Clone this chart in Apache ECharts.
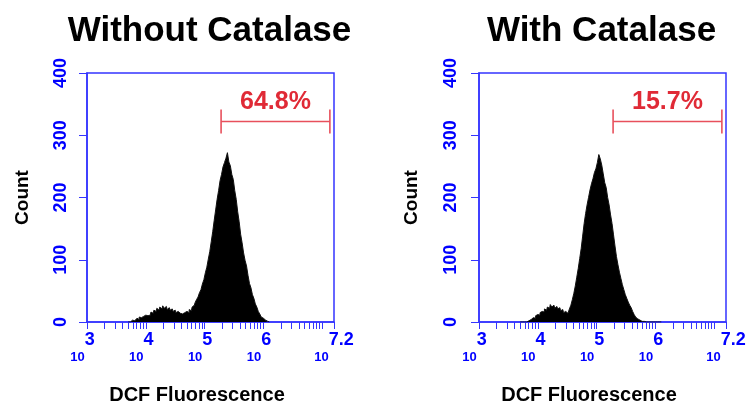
<!DOCTYPE html>
<html>
<head>
<meta charset="utf-8">
<script src="https://cdn.jsdelivr.net/npm/echarts@6/dist/echarts.min.js"></script>
<style>
  html, body { margin: 0; padding: 0; background: #ffffff; }
  #chart { width: 753px; height: 405px; }
</style>
</head>
<body>
<div id="chart"></div>
<script>
// ---- data ----
const panelTitles = ['Without Catalase', 'With Catalase'];
const xAxisTitle = 'DCF Fluorescence';
const yAxisTitle = 'Count';
const yTicks = [0, 100, 200, 300, 400];
const xLabelExponents = [3, 4, 5, 6, 7.2];
// histogram bins: log10 of fluorescence, 3.700 ... 6.100, step 0.025
const binLog10 = Array.from({ length: 97 }, (_, i) => +(3.7 + i * 0.025).toFixed(3));
const countsWithout = [
  0, 0, 2, 3, 2, 5, 6, 4, 8, 7, 9, 7, 11, 10, 13, 11, 16, 14, 19, 17,
  22, 19, 24, 21, 26, 22, 25, 20, 23, 19, 21, 17, 19, 15, 17, 14, 16, 13, 15, 14,
  17, 15, 20, 18, 24, 27, 31, 36, 40, 47, 52, 61, 68, 79, 88, 101, 113, 129, 145, 163,
  180, 197, 211, 227, 237, 249, 256, 263, 272, 257, 251, 237, 229, 211, 197, 177, 161, 141, 127, 111,
  99, 90, 75, 62, 55, 44, 38, 29, 24, 17, 13, 8, 6, 3, 2, 1, 0
];
const countsWith = [
  0, 0, 0, 0, 0, 1, 2, 4, 5, 7, 6, 10, 12, 11, 15, 17, 16, 21, 19, 24,
  22, 28, 24, 27, 22, 25, 21, 23, 18, 20, 15, 17, 14, 16, 21, 27, 36, 46, 58, 72,
  86, 102, 118, 138, 158, 174, 188, 200, 212, 222, 230, 240, 246, 256, 269, 262, 252, 238, 224, 216,
  200, 188, 172, 158, 140, 122, 105, 92, 80, 70, 60, 52, 44, 38, 32, 27, 23, 17, 12, 8,
  5, 3, 3, 1, 1, 0, 0, 0, 0, 0, 0, 0, 0, 0, 0, 0, 0
];
const gateLog10 = [5.28, 7.13];   // marker range (log10 fluorescence)
const gateLevel = 322;            // count level of marker bar
const gatePercents = ['64.8%', '15.7%'];
const countsPerPanel = [countsWithout, countsWith];

// log minor ticks 1..9 x 10^n within 10^3 .. 10^7.2
const xTickValues = [];
for (let n = 3; n <= 7; n++) {
  for (let k = 1; k <= 9; k++) {
    const v = n + Math.log10(k);
    if (v <= 7.2 + 1e-9) xTickValues.push(+v.toFixed(4));
  }
}
xTickValues.push(7.2);

// ---- styles ----
const FONT = "'Liberation Sans', Arial, Helvetica, sans-serif";
const BLUE_LINE = '#3535ff';
const BLUE_TEXT = '#0000ff';
const RED_TEXT = '#e02a36';
const RED_LINE = '#e8505c';

const grids = [
  { left: 87, top: 73, width: 247, height: 249 },
  { left: 479, top: 73, width: 247, height: 249 }
];

const chart = echarts.init(document.getElementById('chart'), null, { renderer: 'canvas' });

const option = {
  animation: false,
  backgroundColor: '#ffffff',
  textStyle: { fontFamily: FONT },
  grid: grids.map(g => Object.assign({
    show: true, borderColor: BLUE_LINE, borderWidth: 1.5, backgroundColor: 'transparent',
    containLabel: false, outerBoundsMode: 'none'
  }, g)),
  graphic: panelTitles.map((t, i) => ({
    type: 'text',
    x: grids[i].left + grids[i].width / 2 - 1,
    y: 14,
    style: {
      text: t,
      textAlign: 'center',
      textVerticalAlign: 'top',
      font: 'bold 35px ' + FONT,
      fill: '#000000'
    }
  })),
  xAxis: grids.map((g, i) => ({
    type: 'value',
    gridIndex: i,
    min: 3,
    max: 7.2,
    axisLine: { show: true, onZero: false, lineStyle: { color: BLUE_LINE, width: 1.5 } },
    axisTick: { show: true, length: 7, customValues: xTickValues, lineStyle: { color: BLUE_LINE, width: 1 } },
    splitLine: { show: false },
    axisLabel: {
      customValues: xLabelExponents,
      margin: 9,
      formatter: v => {
        const s = String(+(+v).toFixed(1));
        return '{b|10}{e|' + s + '}' + (s.indexOf('.') >= 0 ? '' : '{p|}');
      },
      rich: {
        b: { fontFamily: FONT, fontSize: 13, fontWeight: 'bold', color: BLUE_TEXT, lineHeight: 33, verticalAlign: 'bottom' },
        e: { fontFamily: FONT, fontSize: 18, fontWeight: 'bold', color: BLUE_TEXT, lineHeight: 18, verticalAlign: 'top' },
        p: { width: 9 }
      }
    },
    name: xAxisTitle,
    nameLocation: 'middle',
    nameGap: 63,
    nameTextStyle: { fontFamily: FONT, fontSize: 20, fontWeight: 'bold', color: '#000000', padding: [0, 27, 0, 0], verticalAlign: 'top' }
  })),
  yAxis: grids.map((g, i) => ({
    type: 'value',
    gridIndex: i,
    min: 0,
    max: 400,
    interval: 100,
    axisLine: { show: true, lineStyle: { color: BLUE_LINE, width: 1.5 } },
    axisTick: { show: true, length: 8, lineStyle: { color: BLUE_LINE, width: 1 } },
    splitLine: { show: false },
    axisLabel: {
      rotate: 90,
      margin: i === 0 ? 17 : 19,
      fontFamily: FONT,
      fontSize: 18,
      fontWeight: 'bold',
      color: BLUE_TEXT,
      customValues: yTicks
    },
    name: yAxisTitle,
    nameLocation: 'middle',
    nameRotate: 90,
    nameGap: i === 0 ? 55 : 58,
    nameTextStyle: { fontFamily: FONT, fontSize: 19, fontWeight: 'bold', color: '#000000' }
  })),
  series: [].concat(
    countsPerPanel.map((counts, i) => ({
      type: 'line',
      xAxisIndex: i,
      yAxisIndex: i,
      step: 'middle',
      symbol: 'none',
      silent: true,
      lineStyle: { color: '#111111', width: 1 },
      areaStyle: { color: '#000000', opacity: 1 },
      data: binLog10.map((x, j) => [x, counts[j]])
    })),
    gatePercents.map((pct, i) => ({
      type: 'custom',
      xAxisIndex: i,
      yAxisIndex: i,
      silent: true,
      data: [[gateLog10[0], gateLog10[1], gateLevel]],
      renderItem: (params, api) => {
        const p1 = api.coord([api.value(0), api.value(2)]);
        const p2 = api.coord([api.value(1), api.value(2)]);
        const cap = 12;
        const ls = { stroke: RED_LINE, lineWidth: 1.6 };
        return {
          type: 'group',
          children: [
            { type: 'line', shape: { x1: p1[0], y1: p1[1], x2: p2[0], y2: p2[1] }, style: ls },
            { type: 'line', shape: { x1: p1[0], y1: p1[1] - cap, x2: p1[0], y2: p1[1] + cap }, style: ls },
            { type: 'line', shape: { x1: p2[0], y1: p2[1] - cap, x2: p2[0], y2: p2[1] + cap }, style: ls },
            { type: 'text', x: (p1[0] + p2[0]) / 2, y: p1[1] - 19,
              style: { text: pct, textAlign: 'center', textVerticalAlign: 'middle', font: 'bold 25px ' + FONT, fill: RED_TEXT } }
          ]
        };
      }
    }))
  )
};

chart.setOption(option);
</script>
</body>
</html>
